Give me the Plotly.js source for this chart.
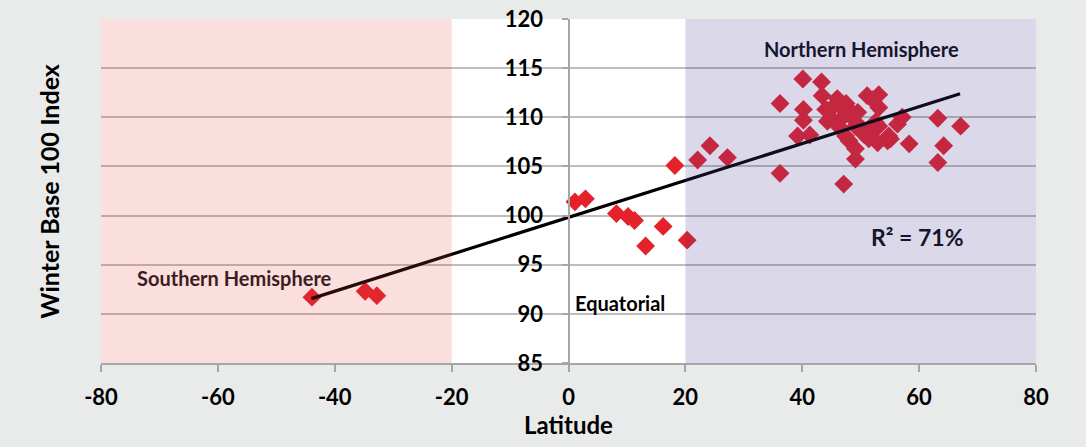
<!DOCTYPE html>
<html>
<head>
<meta charset="utf-8">
<script src="https://cdn.plot.ly/plotly-3.0.1.min.js"></script>
<style>html,body{margin:0;padding:0;background:#e9eaea;}#chart{width:1086px;height:447px;}</style>
</head>
<body>
<div id="chart"></div>
<script>
// Latitude and winter index, southern / equatorial points
var latSouthEq = [-43.9, -34.8, -32.8, 1.1, 2.9, 8.2, 10.2, 11.3, 13.2, 16.2, 18.2];
var idxSouthEq = [91.7, 92.3, 91.85, 101.4, 101.7, 100.2, 99.9, 99.5, 96.9, 98.9, 105.1];
// Northern hemisphere points
var latNorth = [20.3, 22.1, 24.2, 27.2, 36.2, 36.2, 40.1, 43.3, 40.2, 40.2, 39.2, 41.3,
  43.4, 46.0, 44.3, 44.3, 47.1, 48.3, 46.6, 48.0, 49.1, 47.1, 51.1, 53.1, 53.1,
  50.0, 51.7, 52.9, 54.6, 57.1, 56.3, 55.1, 58.3, 63.2, 67.1, 64.2, 63.2,
  52.0, 44.0, 48.0, 45.1, 49.1, 53.1, 47.4, 51.4, 54.8, 49.1, 45.5, 47.5, 49.5, 50.5, 46.5, 52.5];
var idxNorth = [97.5, 105.65, 107.1, 105.9, 111.4, 104.3, 113.9, 113.6, 110.8, 109.7, 108.1, 108.2,
  112.2, 111.9, 110.7, 109.6, 110.8, 110.1, 109.8, 107.6, 105.75, 103.2, 112.2, 112.3, 111.0,
  109.0, 108.5, 107.4, 107.6, 110.0, 109.3, 107.8, 107.3, 109.9, 109.1, 107.1, 105.4,
  111.8, 110.8, 110.8, 109.8, 109.1, 109.1, 108.1, 107.8, 108.1, 106.8, 111.2, 111.4, 110.5, 108.3, 108.9, 109.5];
// Trend line
var trendLat = [-44, 67];
var trendIdx = [91.55, 112.4];
var xTicks = [-80, -60, -40, -20, 0, 20, 40, 60, 80];
var yTicks = [85, 90, 95, 100, 105, 110, 115, 120];

var F = 'Lato, "Open Sans", sans-serif';
var markerStyle = {symbol: 'diamond', size: 14.5, color: '#e3222a', line: {width: 0}};

var traces = [
  {x: latSouthEq.concat(latNorth), y: idxSouthEq.concat(idxNorth), type: 'scatter', mode: 'markers',
   marker: markerStyle, hoverinfo: 'none'},
  {x: trendLat, y: trendIdx, type: 'scatter', mode: 'lines', line: {color: '#000000', width: 3.2}, hoverinfo: 'none'}
];

var layout = {
  width: 1086, height: 447,
  paper_bgcolor: '#e9eaea', plot_bgcolor: '#ffffff',
  margin: {l: 101, r: 50, t: 19, b: 84},
  showlegend: false,
  font: {family: F, color: '#000000'},
  xaxis: {
    range: [-80, 80], tickvals: xTicks, ticktext: xTicks.map(String),
    showgrid: false, zeroline: false,
    showline: true, linecolor: '#a6a6a6', linewidth: 2,
    ticks: 'outside', ticklen: 7, tickwidth: 2, tickcolor: '#a6a6a6',
    tickfont: {family: F, size: 22, color: '#000000', weight: 'bold'},
    ticklabelstandoff: 7,
    title: {text: '<b>Latitude</b>', font: {family: F, size: 24, color: '#000000'}, standoff: 6}
  },
  yaxis: {
    range: [85, 120], tickvals: yTicks, ticktext: yTicks.map(String),
    anchor: 'free', position: 0.5,
    showgrid: true, gridcolor: '#bdbdbd', gridwidth: 2, zeroline: false,
    showline: true, linecolor: '#a6a6a6', linewidth: 2,
    ticks: 'outside', ticklen: 6, tickwidth: 2, tickcolor: '#a6a6a6',
    tickfont: {family: F, size: 22, color: '#000000', weight: 'bold'},
    ticklabelstandoff: 14
  },
  shapes: [
    {type: 'rect', xref: 'x', yref: 'paper', x0: -80, x1: -20, y0: 0, y1: 1, layer: 'above',
     fillcolor: 'rgba(230,60,60,0.17)', line: {width: 0}},
    {type: 'rect', xref: 'x', yref: 'paper', x0: 20, x1: 80, y0: 0, y1: 1, layer: 'above',
     fillcolor: 'rgba(75,60,150,0.2)', line: {width: 0}}
  ],
  annotations: [
    {xref: 'paper', yref: 'paper', x: -0.056, y: 0.5, textangle: -90, showarrow: false,
     text: '<b>Winter Base 100 Index</b>', font: {family: F, size: 25, color: '#000000'}, xanchor: 'center', yanchor: 'middle'},
    {xref: 'x', yref: 'y', x: -57.2, y: 93.6, showarrow: false, text: '<b>Southern Hemisphere</b>',
     font: {family: F, size: 20, color: '#3d1d1d'}},
    {xref: 'x', yref: 'y', x: 0.8, y: 91.1, xanchor: 'left', showarrow: false, text: '<b>Equatorial</b>',
     font: {family: F, size: 20, color: '#000000'}},
    {xref: 'x', yref: 'y', x: 50.1, y: 116.9, showarrow: false, text: '<b>Northern Hemisphere</b>',
     font: {family: F, size: 20, color: '#15152e'}},
    {xref: 'x', yref: 'y', x: 59.8, y: 97.8, showarrow: false, text: '<b>R² = 71%</b>',
     font: {family: F, size: 23, color: '#15152e'}}
  ]
};

Plotly.newPlot('chart', traces, layout, {displayModeBar: false, staticPlot: true});
</script>
</body>
</html>
